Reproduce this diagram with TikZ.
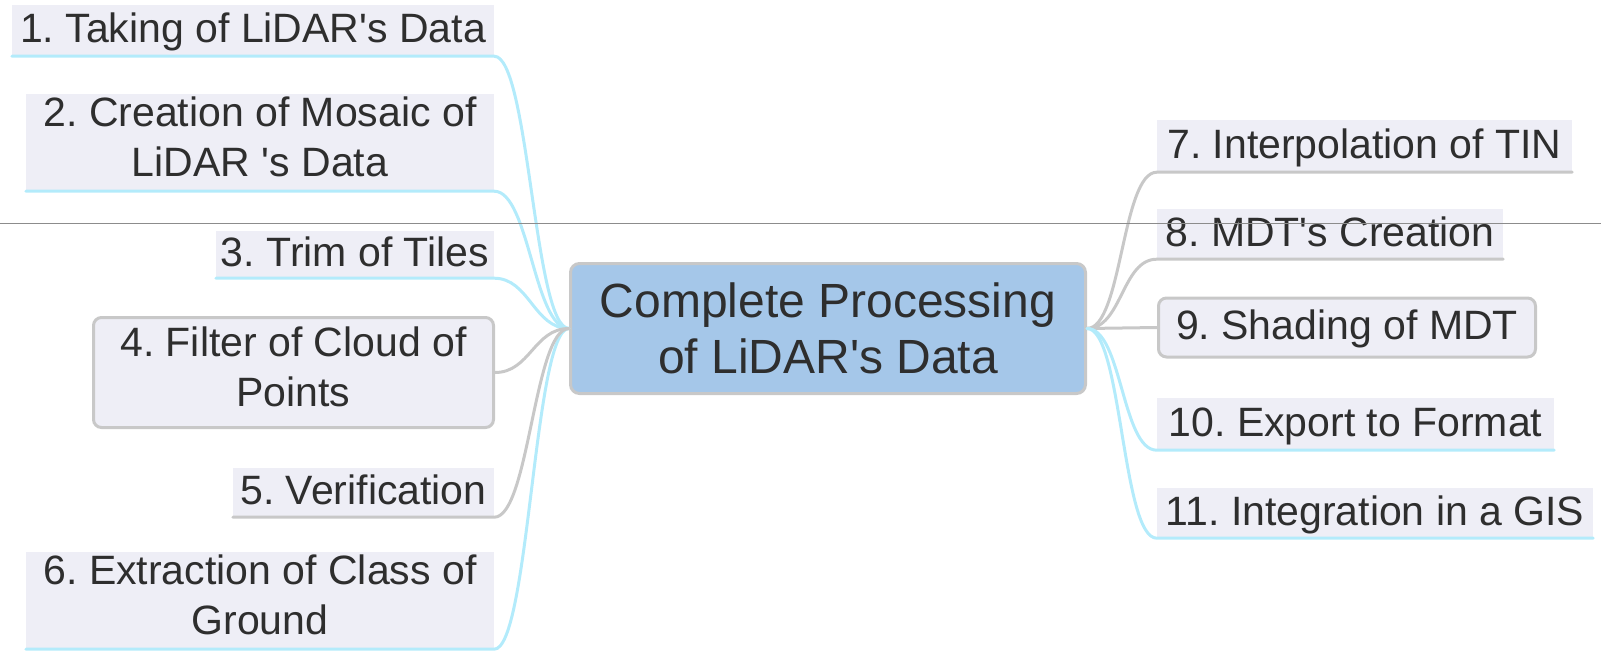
\documentclass[tikz,border=0pt]{standalone}
\usepackage{fontspec}
\setmainfont{Liberation Sans}
\usepackage{xcolor}
\usetikzlibrary{positioning}

\definecolor{labfill}{HTML}{EEEEF6}
\definecolor{hubblue}{HTML}{A5C7E9}
\definecolor{linkgray}{HTML}{C8C8C8}
\definecolor{linkcyan}{HTML}{B3EBFB}
\definecolor{txt}{HTML}{2E2E2E}

\newcommand{\labfont}{\fontsize{41}{50}\selectfont}
\newcommand{\hubfont}{\fontsize{48}{56}\selectfont}
\newcommand{\labstrut}{\rule[-11pt]{0pt}{46pt}}
\newcommand{\apos}{\textquotesingle}
\frenchspacing

\begin{document}
\begin{tikzpicture}[
    x=1pt, y=-1pt,
    lab/.style={fill=labfill, text=txt, font=\labfont, inner xsep=3pt, inner ysep=0pt,
                align=center,
                execute at begin node=\labstrut, execute at end node=\labstrut},
    lbox/.style={lab, draw=linkgray, line width=3pt, rounded corners=8pt},
    hub/.style={fill=hubblue, draw=linkgray, line width=3pt, rounded corners=9pt,
                text=txt, font=\hubfont, align=center,
                minimum width=515pt, minimum height=130pt},
    cyanlink/.style={draw=linkcyan, line width=3pt, line cap=round},
    graylink/.style={draw=linkgray, line width=3pt, line cap=round},
  ]
  \useasboundingbox (0,0) rectangle (1601,651);

  \node[hub] (proc) at (828,328.5) {Complete Processing\\of LiDAR\apos s Data};

  % steps before the model
  \node[lab, minimum width=482pt, minimum height=51pt] (taking) at (253,30.5)
    {1. Taking of LiDAR\apos s Data};
  \node[lab, minimum width=468pt, minimum height=97pt] (mosaic) at (260,142.5)
    {2. Creation of Mosaic of\\LiDAR \apos s Data};
  \node[lab, minimum width=278pt, minimum height=47pt] (trim) at (355,254.5)
    {3. Trim of Tiles};
  \node[lbox, minimum width=400pt, minimum height=110pt] (filter) at (293.5,372.5)
    {4. Filter of Cloud of\\Points};
  \node[lab, minimum width=261pt, minimum height=49pt] (verif) at (363.5,492.5)
    {5. Verification};
  \node[lab, minimum width=468pt, minimum height=97pt] (extract) at (260,600.5)
    {6. Extraction of Class of\\Ground};

  % steps after the model
  \node[lab, minimum width=415pt, minimum height=52pt] (tin) at (1364.5,146)
    {7. Interpolation of TIN};
  \node[lab, minimum width=346pt, minimum height=50pt] (mdt) at (1330,234)
    {8. MDT\apos s Creation};
  \node[lbox, minimum width=377pt, minimum height=59pt] (shade) at (1347,327.5)
    {9. Shading of MDT};
  \node[lab, minimum width=397pt, minimum height=52pt] (export) at (1355.5,424)
    {10. Export to Format};
  \node[lab, minimum width=436pt, minimum height=50pt] (gis) at (1375,513)
    {11. Integration in a GIS};

  % branches into the centre
  \foreach \n in {taking,mosaic,trim,extract}
    \draw[cyanlink] (\n.south west) -- (\n.south east)
      .. controls +(35,0) and +(-35,0) .. (proc.west);
  \draw[graylink] (verif.south west) -- (verif.south east)
    .. controls +(35,0) and +(-35,0) .. (proc.west);
  \draw[graylink] (filter.east) .. controls +(35,0) and +(-35,0) .. (proc.west);

  % branches out of the centre
  \foreach \n in {tin,mdt}
    \draw[graylink] (proc.east) .. controls +(35,0) and +(-35,0) .. (\n.south west)
      -- (\n.south east);
  \draw[graylink] (proc.east) -- (shade.west);
  \foreach \n in {export,gis}
    \draw[cyanlink] (proc.east) .. controls +(35,0) and +(-35,0) .. (\n.south west)
      -- (\n.south east);

  \draw[black!45, line width=1pt] (0,223) -- (1601,223);
\end{tikzpicture}
\end{document}
